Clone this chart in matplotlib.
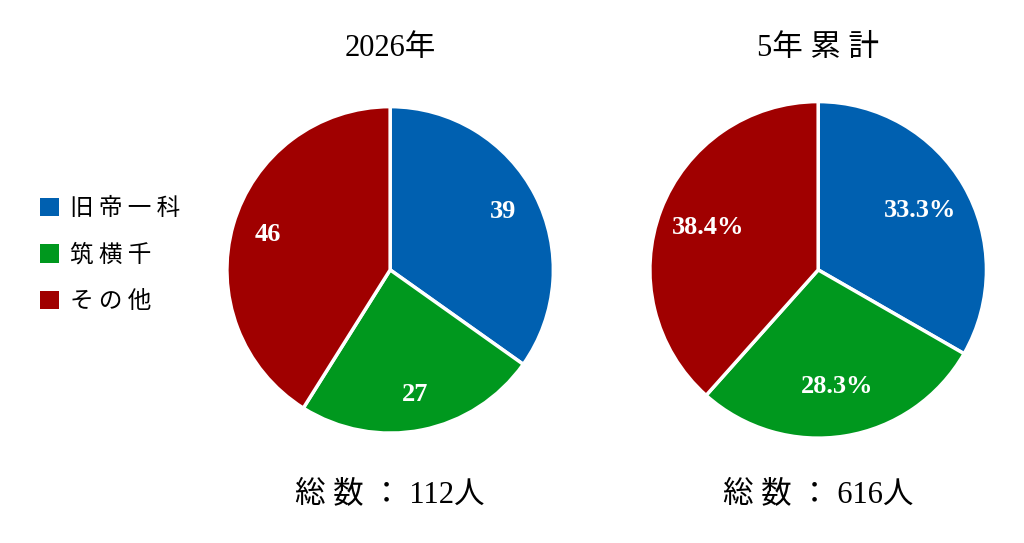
import matplotlib
matplotlib.use("Agg")
import matplotlib.pyplot as plt
from matplotlib.patches import Patch

categories = ["旧帝一科", "筑横千", "その他"]
values_2026 = [39, 27, 46]
values_5yr = [33.3, 28.3, 38.4]
colors = ["#0060B0", "#00981E", "#A00000"]
fam = ["Liberation Serif", "Noto Sans CJK JP"]

fig = plt.figure(figsize=(10.24, 5.43), dpi=100)
fig.patch.set_facecolor("white")

ax1 = fig.add_axes([0.381 - 0.161, 0.503 - 0.304, 0.322, 0.608])
ax2 = fig.add_axes([0.799 - 0.166, 0.503 - 0.313, 0.332, 0.626])

tp = dict(color="white", fontsize=19, fontweight="bold", family=fam)
wp = dict(edgecolor="white", linewidth=2.5)
ax1.pie(values_2026, colors=colors, startangle=90, counterclock=False,
        autopct=lambda p: f"{round(p*sum(values_2026)/100):d}",
        pctdistance=0.78, textprops=tp, wedgeprops=wp)
ax2.pie(values_5yr, colors=colors, startangle=90, counterclock=False,
        autopct="%.1f%%", pctdistance=0.70, textprops=tp, wedgeprops=wp)
for ax in (ax1, ax2):
    ax.set_xlim(-1.01, 1.01)
    ax.set_ylim(-1.01, 1.01)

fig.text(0.381, 0.91, "2026年", ha="center", va="center", fontsize=22, family=fam)
fig.text(0.799, 0.91, "5年 累 計", ha="center", va="center", fontsize=22, family=fam)
fig.text(0.381, 0.088, "総 数 ： 112人", ha="center", va="center", fontsize=22, family=fam)
fig.text(0.799, 0.088, "総 数 ： 616人", ha="center", va="center", fontsize=22, family=fam)

handles = [Patch(facecolor=c) for c in colors]
fig.legend(handles, ["旧 帝 一 科", "筑 横 千", "そ の 他"], loc="center left",
           bbox_to_anchor=(0.018, 0.53),
           frameon=False, prop={"family": ["Noto Sans CJK JP"], "size": 17},
           handlelength=0.8, handleheight=0.8, labelspacing=1.0, handletextpad=0.5)

fig.savefig("out.png", dpi=100, facecolor="white")
